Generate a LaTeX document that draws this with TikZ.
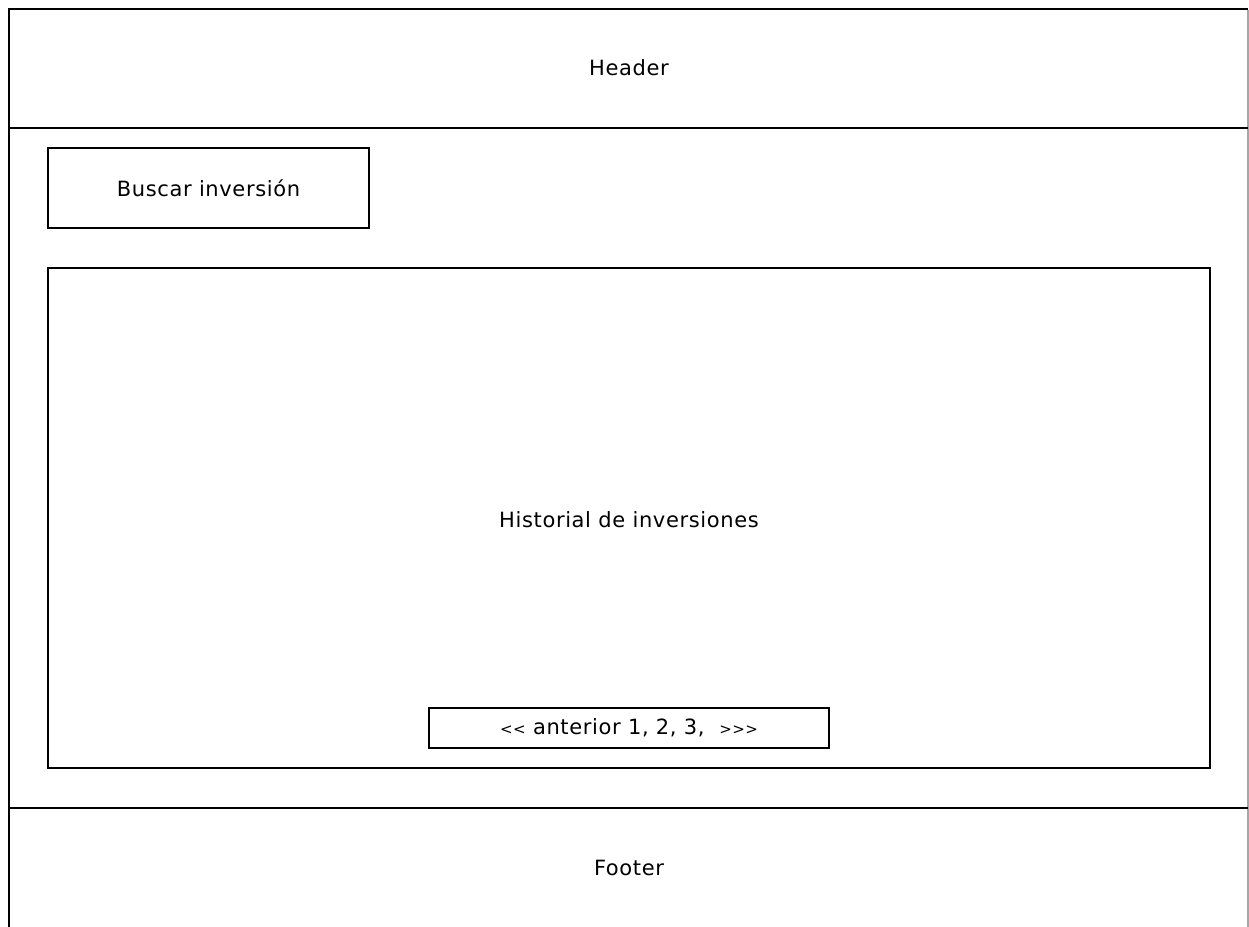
\documentclass[tikz,border=0pt]{standalone}
\usepackage{fontspec}
\setmainfont[LetterSpace=3,Ligatures=NoCommon]{DejaVu Sans}
\newcommand{\smallsign}[1]{{\fontsize{15}{18}\selectfont #1}}
\begin{document}
\begin{tikzpicture}[x=1pt,y=-1pt,
  frame/.style={draw=black,line width=1.3pt},
  lbl/.style={font=\fontsize{21}{24}\selectfont,inner sep=0pt},
  panel/.style={draw=black,line width=1.3pt,inner sep=0pt}]
\useasboundingbox[fill=white] (0,0) rectangle (1249,926);
\begin{scope}
\clip (0,0) rectangle (1249,926);
% page frame, open at the bottom edge
\draw[frame,line width=2pt] (8.5,940) -- (8.5,8.5) -- (1248,8.5);
\draw[draw=black!35,line width=1.3pt] (1248,9.5) -- (1248,940);
\end{scope}
% header and footer separators
\coordinate (hl) at (8.5,128);
\coordinate (hr) at (1248,128);
\coordinate (fl) at (8.5,808);
\coordinate (fr) at (1248,808);
\draw[frame] (hl) -- (hr);
\draw[frame] (fl) -- (fr);
\node[lbl] (header) at (629,68) {Header};
\node[lbl] (footer) at (629,868) {Footer};
% search box
\node[panel,minimum width=321pt,minimum height=80pt,lbl] (buscar) at (208.5,188) {Buscar inversión};
% history panel
\node[panel,minimum width=1162pt,minimum height=500pt] (hist) at (629,518) {};
\node[lbl] (histlbl) at (629,520) {Historial de inversiones};
% pagination bar
\node[panel,minimum width=400pt,minimum height=40pt,lbl] (pag) at (629,728)
  {\smallsign{{<}{<}} anterior 1, 2, 3, \ \smallsign{{>}{>}{>}}};
\end{tikzpicture}
\end{document}
